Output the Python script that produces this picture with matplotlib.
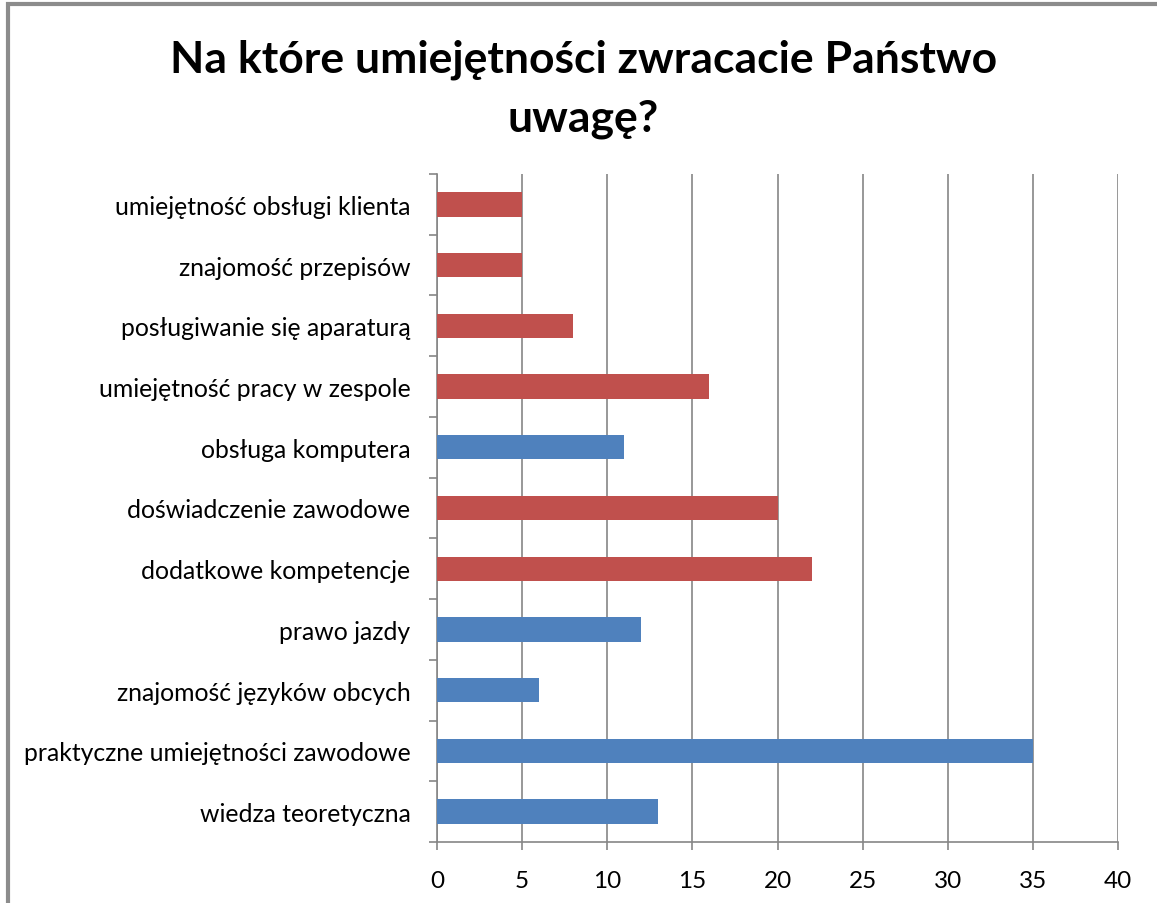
import matplotlib
matplotlib.use("Agg")
import matplotlib.pyplot as plt
from matplotlib.patches import Rectangle

plt.rcParams['font.family'] = ['Lato', 'DejaVu Sans']

categories = [
    "wiedza teoretyczna",
    "praktyczne umiejętności zawodowe",
    "znajomość języków obcych",
    "prawo jazdy",
    "dodatkowe kompetencje",
    "doświadczenie zawodowe",
    "obsługa komputera",
    "umiejętność pracy w zespole",
    "posługiwanie się aparaturą",
    "znajomość przepisów",
    "umiejętność obsługi klienta",
]
values = [13, 35, 6, 12, 22, 20, 11, 16, 8, 5, 5]
groups = ["b", "b", "b", "b", "r", "r", "b", "r", "r", "r", "r"]
colors = {"b": "#4F81BD", "r": "#C0504D"}

fig = plt.figure(figsize=(11.57, 9.04), dpi=100)
ax = fig.add_axes([0.3777, 0.0675, 0.5886, 0.7389])

pos = range(len(categories))
ax.barh(pos, values, height=0.4, color=[colors[g] for g in groups], zorder=3)

ax.set_xlim(0, 40)
ax.set_ylim(-0.5, len(categories) - 0.5)
ax.set_xticks(range(0, 41, 5))
ax.grid(axis='x', color='#868686', linewidth=1.2, zorder=0)

# category labels centred on bars, ticks at boundaries
ax.set_yticks(list(pos))
ax.set_yticklabels(categories, fontsize=17.8)
ax.set_yticks([i - 0.5 for i in range(len(categories) + 1)], minor=True)
ax.tick_params(axis='y', which='major', length=0, pad=19)
ax.tick_params(axis='y', which='minor', length=6, color='#868686', width=1.2)
ax.tick_params(axis='x', length=6, color='#868686', width=1.2, labelsize=17.5, pad=14)

for s in ['top', 'right']:
    ax.spines[s].set_visible(False)
for s in ['left', 'bottom']:
    ax.spines[s].set_color('#868686')
    ax.spines[s].set_linewidth(1.2)

fig.text(0.504, 0.901, "Na które umiejętności zwracacie Państwo\nuwagę?",
         ha='center', va='center', fontsize=32, fontweight='bold',
         linespacing=1.55)

# chart border (cut off on the right and bottom)
fig.patches.append(Rectangle((0.0065, -0.1), 1.2, 1.0945, transform=fig.transFigure,
                             fill=False, edgecolor='#8C8C8C', linewidth=3))

fig.savefig("out.png", dpi=100)
